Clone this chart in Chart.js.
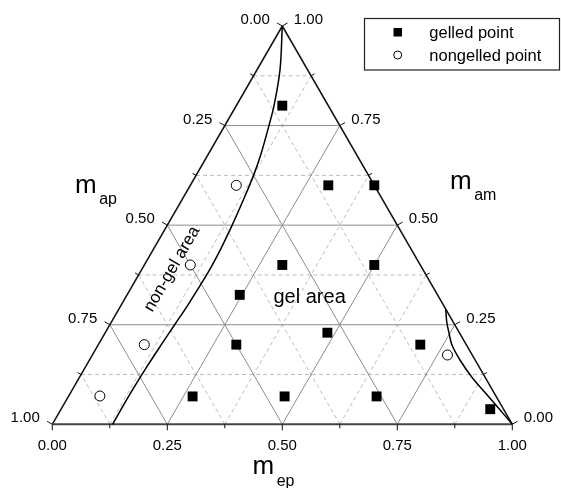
<!DOCTYPE html>
<html>
<head>
<meta charset="utf-8">
<script src="https://cdn.jsdelivr.net/npm/chart.js@4/dist/chart.umd.min.js"></script>
<style>
  html, body { margin: 0; padding: 0; background: #fff; }
  canvas { display: block; }
</style>
</head>
<body>
<canvas id="c" width="561" height="488"></canvas>
<script>
// ---- data (ternary components: m_ep, m_am; m_ap = 1 - m_ep - m_am) ----
const tickValues = [0, 0.25, 0.5, 0.75, 1];
const tickLabels = ['0.00', '0.25', '0.50', '0.75', '1.00'];
const minorValues = [0.125, 0.375, 0.625, 0.875];

const gelledEp = [0.10, 0.30, 0.40, 0.30, 0.50, 0.245, 0.483, 0.30, 0.70, 0.27, 0.47, 0.67, 0.933];
const gelledAm = [0.80, 0.60, 0.60, 0.40, 0.40, 0.325, 0.23, 0.20, 0.20, 0.07, 0.07, 0.07, 0.038];

const nongelledEp = [0.10, 0.10, 0.10, 0.068, 0.772];
const nongelledAm = [0.60, 0.40, 0.20, 0.071, 0.174];

const nonGelLineEp = [0.0, 0.05, 0.082, 0.096, 0.114, 0.125, 0.134, 0.141, 0.146, 0.148, 0.145, 0.141, 0.137, 0.133, 0.131, 0.131];
const nonGelLineAm = [1.0, 0.89, 0.80, 0.75, 0.68, 0.625, 0.56, 0.50, 0.44, 0.38, 0.30, 0.25, 0.20, 0.14, 0.08, 0.0];

const gelLineEp = [0.711, 0.7287, 0.7478, 0.7694, 0.8056, 0.8524, 0.9008, 0.9478, 1.0];
const gelLineAm = [0.2887, 0.2575, 0.2292, 0.199, 0.1614, 0.1187, 0.0798, 0.0422, 0.0];

// ternary -> cartesian data coordinates
function toXY(ep, am) { return { x: ep + am / 2, y: am }; }
function pts(epArr, amArr) { return epArr.map((e, i) => toXY(e, amArr[i])); }

const FONT = '"Liberation Sans", Arial, Helvetica, sans-serif';

const ternaryPlugin = {
  id: 'ternary',
  beforeDatasetsDraw(chart) {
    const ctx = chart.ctx;
    const xs = chart.scales.x, ys = chart.scales.y;
    const P = (ep, am) => { const q = toXY(ep, am); return [xs.getPixelForValue(q.x), ys.getPixelForValue(q.y)]; };
    const line = (a, b) => { ctx.beginPath(); ctx.moveTo(a[0], a[1]); ctx.lineTo(b[0], b[1]); ctx.stroke(); };
    ctx.save();
    // dashed minor grid
    ctx.strokeStyle = '#bdbdbd'; ctx.lineWidth = 1; ctx.setLineDash([4, 3]);
    minorValues.forEach(c => {
      line(P(0, c), P(1 - c, c));
      line(P(c, 0), P(c, 1 - c));
      line(P(1 - c, 0), P(0, 1 - c));
    });
    // solid major grid
    ctx.setLineDash([]); ctx.strokeStyle = '#8c8c8c'; ctx.lineWidth = 1;
    tickValues.slice(1, 4).forEach(c => {
      line(P(0, c), P(1 - c, c));
      line(P(c, 0), P(c, 1 - c));
      line(P(1 - c, 0), P(0, 1 - c));
    });
    // triangle edges
    ctx.strokeStyle = '#111'; ctx.lineWidth = 1.5;
    line(P(0, 0), P(0, 1));
    line(P(1, 0), P(0, 1));
    ctx.strokeStyle = '#444'; ctx.lineWidth = 2;
    line(P(0, 0), P(1, 0));
    // ticks
    ctx.strokeStyle = '#111'; ctx.lineWidth = 1;
    const all = tickValues.map(v => [v, 6]).concat(minorValues.map(v => [v, 4]));
    const c30 = Math.cos(Math.PI / 6), s30 = Math.sin(Math.PI / 6);
    all.forEach(([c, len]) => {
      let p = P(c, 0); line(p, [p[0], p[1] + len]);                 // bottom (m_ep)
      p = P(0, 1 - c); line(p, [p[0] - len * c30, p[1] - len * s30]); // left (m_ap)
      p = P(1 - c, c); line(p, [p[0] + len * c30, p[1] - len * s30]); // right (m_am)
    });
    ctx.restore();
  },
  afterDraw(chart) {
    const ctx = chart.ctx;
    const xs = chart.scales.x, ys = chart.scales.y;
    const P = (ep, am) => { const q = toXY(ep, am); return [xs.getPixelForValue(q.x), ys.getPixelForValue(q.y)]; };
    ctx.save();
    ctx.fillStyle = '#000';
    ctx.font = '15px ' + FONT;
    ctx.textBaseline = 'alphabetic';
    tickValues.forEach((c, i) => {
      let p = P(c, 0);
      ctx.textAlign = 'center'; ctx.fillText(tickLabels[i], p[0], p[1] + 25.5);
      p = P(0, 1 - c);
      ctx.textAlign = 'right'; ctx.fillText(tickLabels[i], p[0] - 12.5, p[1] - 2);
      p = P(1 - c, c);
      ctx.textAlign = 'left'; ctx.fillText(tickLabels[i], p[0] + 11.5, p[1] - 2);
    });
    // axis titles
    ctx.textAlign = 'left';
    const title = (main, sub, x, y, ys2) => {
      ctx.font = '26px ' + FONT; ctx.fillText(main, x, y);
      const w = ctx.measureText(main).width;
      ctx.font = '16px ' + FONT; ctx.fillText(sub, x + w + 2.5, ys2);
    };
    title('m', 'ap', 75, 192.5, 203.5);
    title('m', 'am', 450, 189, 200);
    title('m', 'ep', 252.5, 474, 486);
    // region labels
    ctx.font = '20px ' + FONT;
    ctx.fillText('gel area', 273.5, 303);
    ctx.save();
    ctx.translate(172, 269);
    ctx.rotate(-Math.PI / 3);
    ctx.font = '17px ' + FONT; ctx.textAlign = 'center'; ctx.textBaseline = 'middle';
    ctx.fillText('non-gel area', 0, 0);
    ctx.restore();
    // legend
    ctx.strokeStyle = '#222'; ctx.lineWidth = 1.2;
    ctx.strokeRect(364.5, 18.5, 195, 51.5);
    ctx.fillStyle = '#000';
    ctx.fillRect(393.5, 28, 8.5, 8.5);
    ctx.beginPath(); ctx.arc(397.7, 55, 4, 0, Math.PI * 2);
    ctx.fillStyle = '#fff'; ctx.fill(); ctx.strokeStyle = '#000'; ctx.lineWidth = 1; ctx.stroke();
    ctx.fillStyle = '#000'; ctx.font = '16.5px ' + FONT; ctx.textAlign = 'left';
    ctx.fillText('gelled point', 429.3, 37.5);
    ctx.fillText('nongelled point', 429.3, 60.5);
    ctx.restore();
  }
};

new Chart(document.getElementById('c'), {
  type: 'scatter',
  data: {
    datasets: [
      { label: 'gelled point', data: pts(gelledEp, gelledAm), pointStyle: 'rect', pointRadius: 7,
        backgroundColor: '#000', borderColor: '#000', borderWidth: 0 },
      { label: 'nongelled point', data: pts(nongelledEp, nongelledAm), pointStyle: 'circle', pointRadius: 5,
        backgroundColor: '#fff', borderColor: '#000', borderWidth: 1 },
      { label: 'non-gel boundary', data: pts(nonGelLineEp, nonGelLineAm), showLine: true, pointRadius: 0,
        borderColor: '#000', borderWidth: 1.5, tension: 0.35, fill: false },
      { label: 'gel boundary', data: pts(gelLineEp, gelLineAm), showLine: true, pointRadius: 0,
        borderColor: '#000', borderWidth: 1.5, tension: 0.35, fill: false }
    ]
  },
  options: {
    responsive: false,
    animation: false,
    devicePixelRatio: 1,
    clip: false,
    layout: { padding: { left: 52.3, right: 48.7, top: 26, bottom: 63.7 } },
    scales: {
      x: { type: 'linear', min: 0, max: 1, display: false },
      y: { type: 'linear', min: 0, max: 1, display: false }
    },
    plugins: { legend: { display: false }, tooltip: { enabled: false } }
  },
  plugins: [ternaryPlugin]
});
</script>
</body>
</html>
